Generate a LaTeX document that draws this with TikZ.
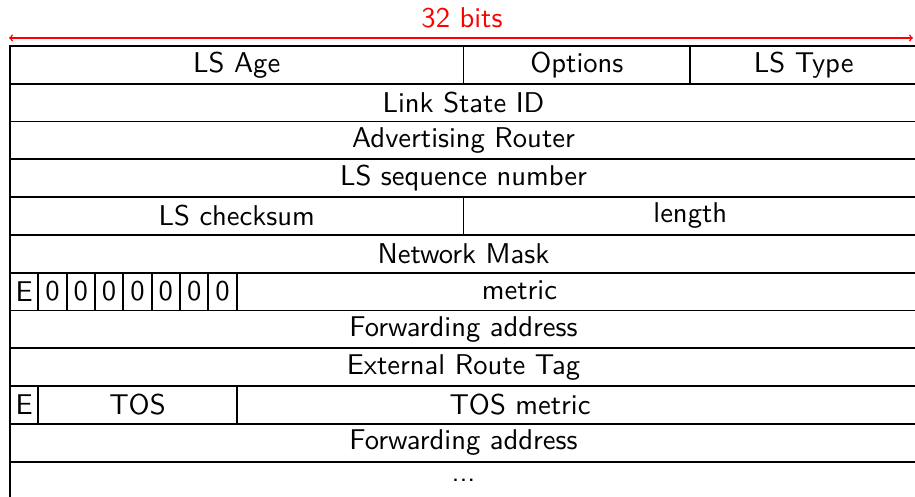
\documentclass[tikz,border=0pt]{standalone}
\usepackage{fontspec}
\setsansfont{lmsans10-regular.otf}
\begin{document}
\begin{tikzpicture}[x=1pt,y=-1pt,
  txt/.style={font=\fontsize{28.6}{34}\selectfont\sffamily},
  field/.style={txt, draw=black, line width=1.8pt, inner sep=0pt, anchor=north west,
    minimum height=37.8pt},
  bitlabel/.style={txt, text=red},
  span/.style={red, line width=1.5pt, <->}]
\useasboundingbox (0,0) rectangle (915,497);
\def\bw{28.35}
\def\rh{37.8}
% row 0
\node[field, minimum width=16*\bw] (age) at (9,45) {LS Age};
\node[field, minimum width=8*\bw] (opt) at (9+16*\bw,45) {Options};
\node[field, minimum width=8*\bw] (type) at (9+24*\bw,45) {LS Type};
% full rows
\node[field, minimum width=32*\bw] (lsid) at (9,45+\rh) {Link State ID};
\node[field, minimum width=32*\bw] (adv) at (9,45+2*\rh) {Advertising Router};
\node[field, minimum width=32*\bw] (seq) at (9,45+3*\rh) {LS sequence number};
\node[field, minimum width=16*\bw] (chk) at (9,45+4*\rh) {LS checksum};
\node[field, minimum width=16*\bw] (len) at (9+16*\bw,45+4*\rh) {length};
\node[field, minimum width=32*\bw] (mask) at (9,45+5*\rh) {Network Mask};
% E row
\node[field, minimum width=\bw] (e1) at (9,45+6*\rh) {E};
\foreach \i in {1,...,7}{
  \node[field, minimum width=\bw] (z\i) at (9+\i*\bw,45+6*\rh) {0};
}
\node[field, minimum width=24*\bw] (metric) at (9+8*\bw,45+6*\rh) {};
\node[txt] (metricT) at (519.5,45+6.5*\rh) {metric};
\node[field, minimum width=32*\bw] (fwd1) at (9,45+7*\rh) {Forwarding address};
\node[field, minimum width=32*\bw] (tag) at (9,45+8*\rh) {External Route Tag};
\node[field, minimum width=\bw] (e2) at (9,45+9*\rh) {E};
\node[field, minimum width=7*\bw] (tos) at (9+\bw,45+9*\rh) {TOS};
\node[field, minimum width=24*\bw] (tosm) at (9+8*\bw,45+9*\rh) {};
\node[txt] (tosmT) at (520,45+9.5*\rh) {TOS metric};
\node[field, minimum width=32*\bw] (fwd2) at (9,45+10*\rh) {Forwarding address};
\node[field, minimum width=32*\bw] (dots) at (9,45+11*\rh) {...};
% span arrow
\coordinate (aL) at (9,38);
\coordinate (aR) at (913,38);
\draw[span] (aL) -- (aR);
\node[bitlabel] (bits) at (462,18) {32 bits};
\end{tikzpicture}
\end{document}
